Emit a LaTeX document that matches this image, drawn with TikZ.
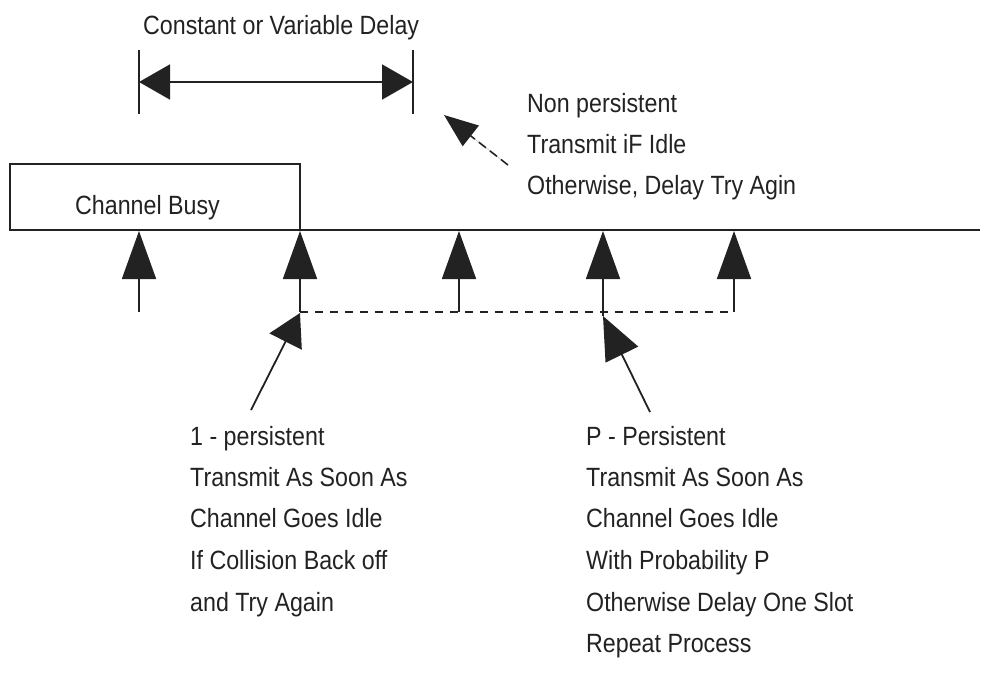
\documentclass[tikz,border=0pt]{standalone}
\usepackage{fontspec}
\setmainfont{Liberation Sans}[FakeStretch=0.88]
\usetikzlibrary{arrows.meta}
\definecolor{ink}{HTML}{222222}
\begin{document}
\begin{tikzpicture}[x=1pt,y=-1pt,
    ink line/.style={draw=ink,line width=1.8pt},
    label text/.style={anchor=base west,inner sep=0pt,text=ink,font=\fontsize{26.4}{30}\selectfont},
    big tip/.style={-{Triangle[length=48pt,width=34pt]}},
    span tip/.style={{Triangle[length=31pt,width=35pt]}-{Triangle[length=31pt,width=35pt]}},
    slant tip/.style={-{Triangle[length=32pt,width=36pt]}},
    long tip/.style={-{Triangle[length=43pt,width=36pt]}},
    dash tip/.style={-{Triangle[length=34pt,width=26pt]}},
    slot dash/.style={draw=ink,line width=1.3pt,dash pattern=on 8pt off 7pt}]
  \useasboundingbox (0,0) rectangle (993,694);

  % delay span at the top
  \node[label text] (delaytxt) at (143,34) {Constant or Variable Delay};
  \coordinate (barLtop) at (139,50);  \coordinate (barLbot) at (139,114);
  \coordinate (barRtop) at (413,50);  \coordinate (barRbot) at (413,114);
  \coordinate (spanL) at (139,82);    \coordinate (spanR) at (413,82);
  \draw[ink line] (barLtop) -- (barLbot);
  \draw[ink line] (barRtop) -- (barRbot);
  \draw[ink line,span tip,fill=ink] (spanL) -- (spanR);

  % non persistent note
  \node[label text] (np1) at (527,112) {Non persistent};
  \node[label text] (np2) at (527,153) {Transmit iF Idle};
  \node[label text] (np3) at (527,194) {Otherwise, Delay Try Agin};
  \coordinate (npfrom) at (508,165);
  \coordinate (npto) at (444,115);
  \draw[draw=ink,line width=1.6pt,dash pattern=on 9pt off 5pt,dash tip,fill=ink] (npfrom) -- (npto);

  % busy channel and time axis
  \node[draw=ink,line width=1.8pt,minimum width=290pt,minimum height=66pt,inner sep=0pt] (busy) at (155,197) {};
  \node[label text] (busytxt) at (75,214) {Channel Busy};
  \coordinate (axisL) at (10,230);
  \coordinate (axisR) at (980,230);
  \draw[ink line] (axisL) -- (axisR);

  % attempts arriving at the channel
  \foreach \n/\x in {a/139,b/300,c/459,d/603,e/734} {
    \coordinate (\n foot) at (\x,312);
    \coordinate (\n top) at (\x,231);
  }
  \coordinate (dfoot) at (603,316);
  \foreach \n in {a,b,c,d,e}
    \draw[ink line,big tip,fill=ink] (\n foot) -- (\n top);

  % slot line joining the retries
  \draw[slot dash] (bfoot) -- (efoot);

  % pointers from the descriptions
  \coordinate (onefrom) at (251,410);
  \coordinate (oneto) at (300,313);
  \draw[ink line,slant tip,fill=ink] (onefrom) -- (oneto);
  \coordinate (pfrom) at (650,412);
  \coordinate (pto) at (603,316);
  \draw[ink line,long tip,fill=ink] (pfrom) -- (pto);

  % 1-persistent description
  \node[label text] (o1) at (190,445) {1 - persistent};
  \node[label text] (o2) at (190,486) {Transmit As Soon As};
  \node[label text] (o3) at (190,527) {Channel Goes Idle};
  \node[label text] (o4) at (190,569) {If Collision Back off};
  \node[label text] (o5) at (190,611) {and Try Again};

  % p-persistent description
  \node[label text] (p1) at (586,445) {P - Persistent};
  \node[label text] (p2) at (586,486) {Transmit As Soon As};
  \node[label text] (p3) at (586,527) {Channel Goes Idle};
  \node[label text] (p4) at (586,569) {With Probability P};
  \node[label text] (p5) at (586,611) {Otherwise Delay One Slot};
  \node[label text] (p6) at (586,652) {Repeat Process};
\end{tikzpicture}
\end{document}
